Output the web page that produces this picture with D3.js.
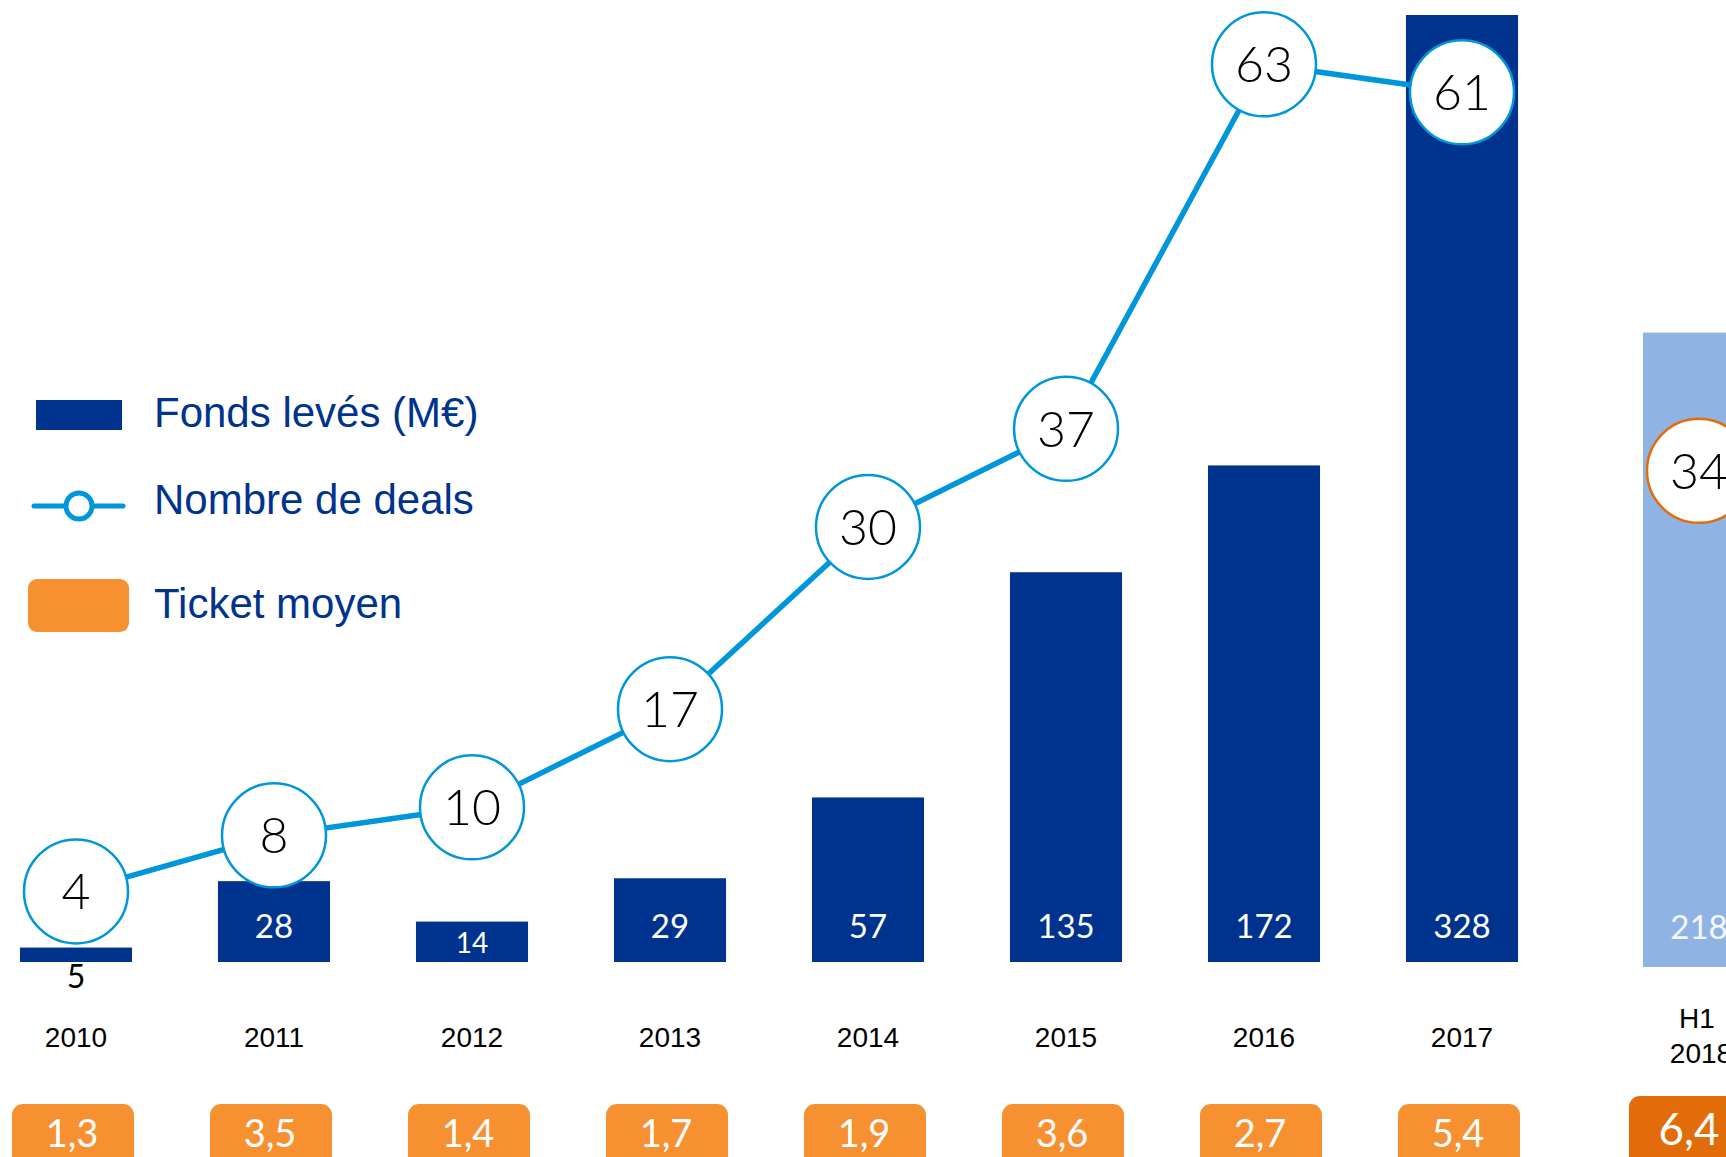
<!DOCTYPE html>
<html><head><meta charset="utf-8">
<script src="https://cdn.jsdelivr.net/npm/d3@7"></script>
<style>body{margin:0;background:#fff;overflow:hidden}</style>
</head><body>
<svg id="chart" width="1726" height="1157"></svg>
<script>
// ---- data ----
const categories = ["2010","2011","2012","2013","2014","2015","2016","2017","H1 2018"];
const fundsRaised = [5, 28, 14, 29, 57, 135, 172, 328, 218];
const dealCount = [4, 8, 10, 17, 30, 37, 63, 61, 34];
const avgTicket = [1.3, 3.5, 1.4, 1.7, 1.9, 3.6, 2.7, 5.4, 6.4];
const isPartialYear = [false, false, false, false, false, false, false, false, true];
const legendLabels = ["Fonds levés (M€)", "Nombre de deals", "Ticket moyen"];

// ---- styles ----
const C = {
  bar: "#00338D", barPartial: "#8FB4E3", line: "#0096DB",
  ticket: "#F79031", ticketPartial: "#E36C0A", legendText: "#00338D"
};
const numFont = "Lato, 'Open Sans', sans-serif";
const arial = "'Liberation Sans', Arial, sans-serif";
const partialGap = 39;

const svg = d3.select("#chart");
const rows = categories.map((c, i) => ({
  cat: c, funds: fundsRaised[i], deals: dealCount[i], ticket: avgTicket[i], partial: isPartialYear[i]
}));

const x = d3.scaleBand().domain(categories).range([-23, 1759]).paddingInner(0.434).paddingOuter(0.217);
const cx = d => x(d.cat) + x.bandwidth() / 2 + (d.partial ? partialGap : 0);
const yFunds = d3.scaleLinear().domain([0, 328]).range([962, 15]);
const yDeals = d3.scaleLinear().domain([0, 63]).range([947.5, 64.3]);
const fmt = v => d3.format(".1f")(v).replace(".", ",");

// ---- bars ----
svg.append("g").selectAll("rect").data(rows).join("rect")
  .attr("x", d => cx(d) - x.bandwidth() / 2)
  .attr("width", x.bandwidth())
  .attr("y", d => yFunds(d.funds))
  .attr("height", d => yFunds(0) - yFunds(d.funds) + (d.partial ? 5 : 0))
  .attr("fill", d => d.partial ? C.barPartial : C.bar);

// bar value labels
const barH = d => yFunds(0) - yFunds(d.funds);
svg.append("g").selectAll("text").data(rows).join("text")
  .attr("x", d => cx(d))
  .attr("y", d => barH(d) > 60 ? 938 + (d.partial ? 1 : 0) : (barH(d) > 30 ? 953 : 988))
  .attr("text-anchor", "middle")
  .attr("font-family", numFont)
  .attr("font-size", d => barH(d) > 60 ? 33 : (barH(d) > 30 ? 28 : 32))
  .attr("fill", d => barH(d) > 30 ? (d.partial ? "#F4F7FC" : "#fff") : "#000")
  .text(d => d.funds);

// ---- deals line ----
const full = rows.filter(d => !d.partial);
svg.append("path").datum(full)
  .attr("d", d3.line().x(d => cx(d)).y(d => yDeals(d.deals)))
  .attr("fill", "none").attr("stroke", C.line).attr("stroke-width", 5.5);

const dots = svg.append("g").selectAll("g").data(rows).join("g")
  .attr("transform", d => `translate(${cx(d)},${yDeals(d.deals)})`);
dots.append("circle").attr("r", 52)
  .attr("fill", "#fff")
  .attr("stroke", d => d.partial ? C.ticketPartial : C.line)
  .attr("stroke-width", 2.5);
dots.append("text")
  .attr("text-anchor", "middle").attr("y", 18)
  .attr("font-family", numFont).attr("font-weight", 300).attr("font-size", 50).attr("fill", "#000")
  .text(d => d.deals);

// ---- category axis ----
const axisG = svg.append("g").attr("transform", "translate(0,1047)")
  .call(d3.axisBottom(x).tickSize(0).tickPadding(0));
axisG.select(".domain").remove();
axisG.selectAll(".tick text")
  .attr("y", 0).attr("dy", null)
  .attr("font-family", arial).attr("font-size", 28).attr("fill", "#000");
axisG.selectAll(".tick").filter((c, i) => isPartialYear[i])
  .attr("transform", function () {
    const t = d3.select(this).attr("transform");
    const m = /translate\(([^,]+),([^)]+)\)/.exec(t);
    return `translate(${+m[1] + partialGap},0)`;
  })
  .select("text").each(function (c) {
    const t = d3.select(this).text("");
    const parts = c.split(" ");
    t.append("tspan").attr("x", -2).attr("y", -19).text(parts[0]);
    t.append("tspan").attr("x", 2).attr("y", 16).text(parts[1]);
  });

// ---- ticket boxes ----
const tick = svg.append("g").selectAll("g").data(rows).join("g");
tick.append("rect")
  .attr("x", d => d.partial ? cx(d) - 70 : cx(d) - 64)
  .attr("y", d => d.partial ? 1096 : 1104)
  .attr("width", d => d.partial ? 140 : 122)
  .attr("height", 100)
  .attr("rx", 11)
  .attr("fill", d => d.partial ? C.ticketPartial : C.ticket);
tick.append("text")
  .attr("x", d => cx(d) - (d.partial ? 10 : 4))
  .attr("y", d => d.partial ? 1145 : 1147)
  .attr("text-anchor", "middle")
  .attr("font-family", numFont)
  .attr("font-size", d => d.partial ? 44 : 38)
  .attr("fill", "#fff")
  .text(d => fmt(d.ticket));

// ---- legend ----
const lg = svg.append("g");
lg.append("rect").attr("x", 36).attr("y", 400).attr("width", 86).attr("height", 30).attr("fill", C.bar);
lg.append("line").attr("x1", 34).attr("x2", 123).attr("y1", 506).attr("y2", 506)
  .attr("stroke", C.line).attr("stroke-width", 5).attr("stroke-linecap", "round");
lg.append("circle").attr("cx", 79).attr("cy", 506).attr("r", 13)
  .attr("fill", "#fff").attr("stroke", C.line).attr("stroke-width", 5);
lg.append("rect").attr("x", 28).attr("y", 579).attr("width", 101).attr("height", 53).attr("rx", 9).attr("fill", C.ticket);
const legendBase = [427, 514, 618];
lg.selectAll("text").data(legendLabels).join("text")
  .attr("x", 154).attr("y", (d, i) => legendBase[i])
  .attr("font-family", arial).attr("font-size", 42).attr("fill", C.legendText)
  .text(d => d);
</script>
</body></html>
